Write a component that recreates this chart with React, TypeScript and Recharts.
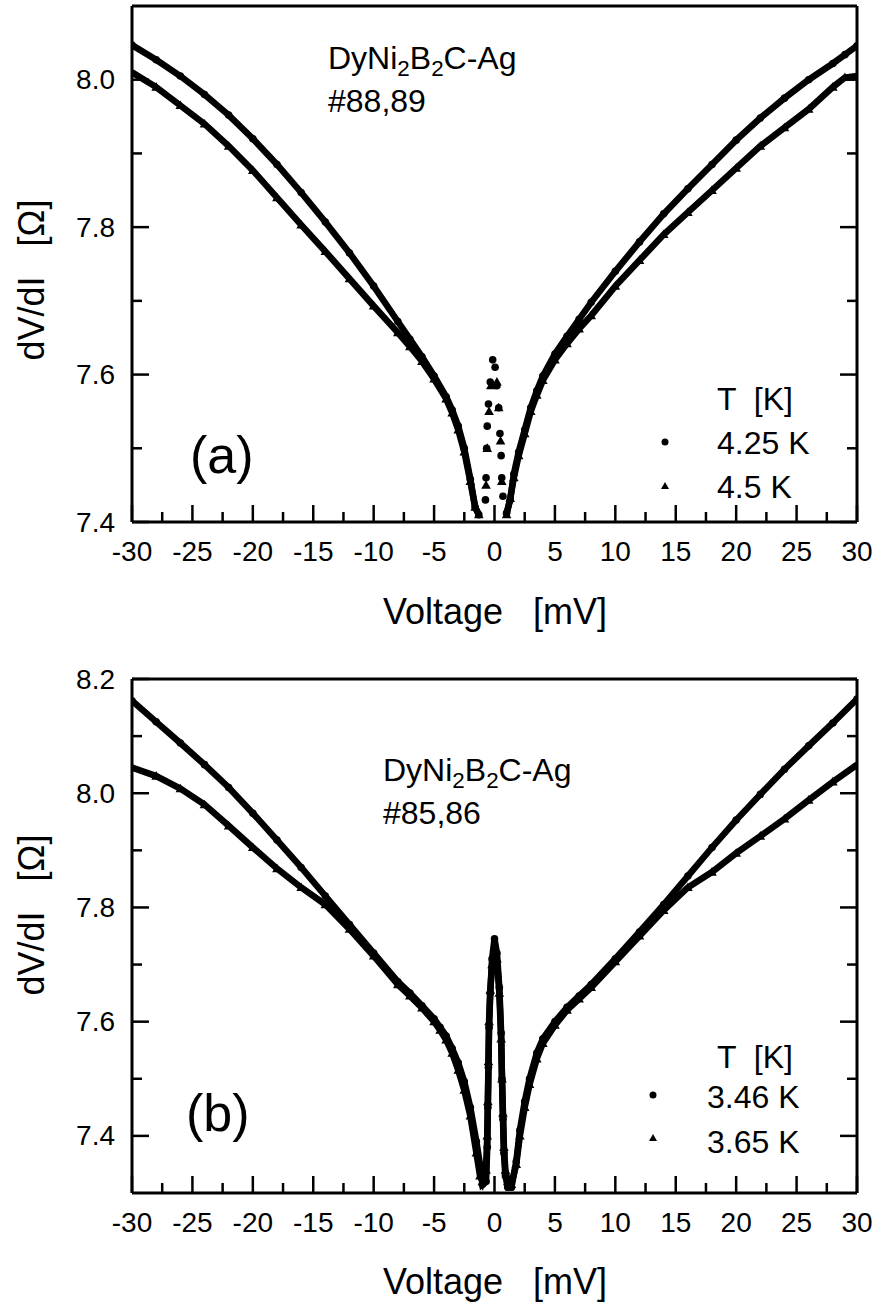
import React from 'react';
import { ScatterChart, Scatter, XAxis, YAxis } from 'recharts';

// ─── Data ─────────────────────────────────────────────────────────────────────

const xTicks = [
  -30, -27.5, -25, -22.5, -20, -17.5, -15, -12.5, -10, -7.5, -5, -2.5, 0,
  2.5, 5, 7.5, 10, 12.5, 15, 17.5, 20, 22.5, 25, 27.5, 30,
];
const yTicksA = [7.4, 7.5, 7.6, 7.7, 7.8, 7.9, 8.0];
const yTicksB = [7.4, 7.5, 7.6, 7.7, 7.8, 7.9, 8.0, 8.1, 8.2];

// panel (a): voltage grids of the two branches either side of the dip
const voltsALeft = [-30, -28, -26, -24, -22, -20, -18, -16, -14, -12, -10, -8, -7, -6, -5, -4, -3.5, -3, -2.5, -2, -1.6, -1.3];
const voltsARight = [1.0, 1.3, 1.6, 2, 2.5, 3, 3.5, 4, 5, 6, 7, 8, 10, 12, 14, 16, 18, 20, 22, 24, 26, 28, 29, 30];

// 4.25 K (circles)
const a425Left = [8.047, 8.027, 8.005, 7.98, 7.952, 7.92, 7.885, 7.847, 7.807, 7.765, 7.72, 7.672, 7.648, 7.624, 7.598, 7.57, 7.552, 7.53, 7.5, 7.458, 7.42, 7.41];
const a425Right = [7.412, 7.43, 7.465, 7.495, 7.525, 7.555, 7.578, 7.598, 7.628, 7.652, 7.675, 7.698, 7.74, 7.78, 7.818, 7.852, 7.885, 7.918, 7.948, 7.975, 8.0, 8.022, 8.034, 8.046];
// 4.5 K (triangles)
const a45Left = [8.01, 7.99, 7.965, 7.94, 7.91, 7.877, 7.84, 7.803, 7.767, 7.73, 7.693, 7.657, 7.638, 7.618, 7.594, 7.567, 7.548, 7.525, 7.495, 7.455, 7.42, 7.41];
const a45Right = [7.41, 7.432, 7.46, 7.49, 7.52, 7.55, 7.572, 7.592, 7.62, 7.642, 7.662, 7.68, 7.72, 7.755, 7.79, 7.82, 7.85, 7.88, 7.91, 7.935, 7.96, 7.99, 8.003, 8.005];

// zero-bias peak in (a), sparse points
const a425SpikeV = [-0.75, -0.7, -0.65, -0.6, -0.5, -0.35, -0.15, 0.05, 0.2, 0.35, 0.45, 0.55, 0.6, 0.7];
const a425SpikeR = [7.43, 7.46, 7.5, 7.53, 7.56, 7.59, 7.62, 7.61, 7.585, 7.555, 7.52, 7.49, 7.46, 7.435];
const a45SpikeV = [-0.7, -0.6, -0.45, -0.3, 0.2, 0.35, 0.5, 0.6];
const a45SpikeR = [7.45, 7.5, 7.55, 7.585, 7.59, 7.555, 7.51, 7.455];

// panel (b): one grid through the dip and the peak
const voltsB = [
  -30, -28, -26, -24, -22, -20, -18, -16, -14, -12, -10, -8, -7, -6, -5, -4.5, -4, -3.5, -3, -2.5, -2, -1.5, -1.2, -1.0,
  -0.7, -0.6, -0.55, -0.5, -0.45, -0.35, -0.2, 0, 0.2, 0.4, 0.55, 0.62, 0.7, 0.78, 0.9, 1.1,
  1.4, 1.8, 2.1, 2.5, 2.9, 3.5, 4, 5, 6, 7, 8, 10, 12, 14, 16, 18, 20, 22, 24, 26, 28, 30,
];
// 3.46 K (circles)
const b346 = [
  8.162, 8.125, 8.088, 8.05, 8.01, 7.965, 7.918, 7.87, 7.82, 7.77, 7.72, 7.67, 7.65, 7.628, 7.605, 7.59, 7.575, 7.553, 7.528, 7.495, 7.45, 7.39, 7.35, 7.315,
  7.32, 7.38, 7.45, 7.52, 7.59, 7.65, 7.71, 7.745, 7.72, 7.66, 7.58, 7.5, 7.43, 7.37, 7.33, 7.31,
  7.31, 7.355, 7.41, 7.46, 7.5, 7.545, 7.57, 7.6, 7.625, 7.645, 7.665, 7.71, 7.757, 7.805, 7.855, 7.905, 7.953, 7.998, 8.042, 8.083, 8.123, 8.165,
];
// 3.65 K (triangles)
const b365 = [
  8.045, 8.03, 8.008, 7.98, 7.943, 7.905, 7.868, 7.835, 7.805, 7.762, 7.715, 7.665, 7.645, 7.624, 7.6, 7.585, 7.568, 7.545, 7.515, 7.48, 7.435, 7.37, 7.33, 7.32,
  7.34, 7.4, 7.46, 7.53, 7.6, 7.655, 7.7, 7.73, 7.71, 7.65, 7.57, 7.5, 7.44, 7.38, 7.34, 7.32,
  7.315, 7.35, 7.4, 7.45, 7.49, 7.535, 7.562, 7.594, 7.62, 7.64, 7.66, 7.705, 7.75, 7.795, 7.835, 7.862, 7.895, 7.925, 7.955, 7.988, 8.02, 8.05,
];

// ─── Helpers ──────────────────────────────────────────────────────────────────

const FONT = '"Liberation Sans", Arial, Helvetica, sans-serif';
const MAJOR = 17;
const MINOR = 10;
const axisStyle = { stroke: '#000', strokeWidth: 3 };

const pts = (v: number[], r: number[]) => v.map((x, i) => ({ x, y: r[i] }));

const Dot = (p: any) => <circle cx={p.cx} cy={p.cy} r={3.8} fill="#000" />;
const Tri = (p: any) => (
  <polygon
    points={`${p.cx},${p.cy - 5} ${p.cx - 4.8},${p.cy + 3.6} ${p.cx + 4.8},${p.cy + 3.6}`}
    fill="#000"
  />
);

const isMajorX = (v: number) => v % 5 === 0;
const isMajorY = (v: number) => Math.round(v * 10) % 2 === 0;

const tickText = { fontFamily: FONT, fontSize: 28, fill: '#000' };

function BottomTick({ x, y, payload }: any) {
  const major = isMajorX(payload.value);
  return (
    <g>
      <line x1={x} x2={x} y1={y} y2={y - (major ? MAJOR : MINOR)} stroke="#000" strokeWidth={2.5} />
      {major && (
        <text x={x} y={y + 29} textAnchor="middle" dominantBaseline="central" {...tickText}>
          {payload.value}
        </text>
      )}
    </g>
  );
}

function TopTick({ x, y, payload }: any) {
  const major = isMajorX(payload.value);
  return <line x1={x} x2={x} y1={y} y2={y + (major ? MAJOR : MINOR)} stroke="#000" strokeWidth={2.5} />;
}

function LeftTick({ x, y, payload }: any) {
  const major = isMajorY(payload.value);
  return (
    <g>
      <line x1={x} x2={x + (major ? MAJOR : MINOR)} y1={y} y2={y} stroke="#000" strokeWidth={2.5} />
      {major && (
        <text x={x - 17} y={y} textAnchor="end" dominantBaseline="central" {...tickText}>
          {payload.value.toFixed(1)}
        </text>
      )}
    </g>
  );
}

function RightTick({ x, y, payload }: any) {
  const major = isMajorY(payload.value);
  return <line x1={x} x2={x - (major ? MAJOR : MINOR)} y1={y} y2={y} stroke="#000" strokeWidth={2.5} />;
}

// ─── Panel ────────────────────────────────────────────────────────────────────

interface Series {
  data: { x: number; y: number }[];
  shape: (p: any) => React.ReactElement;
  joined: boolean;
}

interface PanelProps {
  plotTop: number;
  plotBottom: number;
  yDomain: [number, number];
  yTicks: number[];
  series: Series[];
}

// plot box spans x 132..857; room above for the top tick label, below for the x labels
const PAD_TOP = 20;
const TOP_AXIS = 6;
const BOTTOM_AXIS = 40;
const PAD_BOTTOM = 38;

function Panel({ plotTop, plotBottom, yDomain, yTicks, series }: PanelProps) {
  const height = plotBottom - plotTop + PAD_TOP + TOP_AXIS + BOTTOM_AXIS + PAD_BOTTOM;
  return (
    <div style={{ position: 'absolute', left: 0, top: plotTop - PAD_TOP - TOP_AXIS, width: 879, height }}>
      <ScatterChart width={879} height={height} margin={{ top: PAD_TOP, right: 12, bottom: PAD_BOTTOM, left: 72 }}>
        <XAxis
          type="number"
          dataKey="x"
          domain={[-30, 30]}
          ticks={xTicks}
          interval={0}
          allowDataOverflow
          height={BOTTOM_AXIS}
          tickSize={0}
          tickMargin={0}
          tickLine={false}
          axisLine={axisStyle}
          tick={<BottomTick />}
        />
        <XAxis
          xAxisId="top"
          orientation="top"
          type="number"
          domain={[-30, 30]}
          ticks={xTicks}
          interval={0}
          allowDataOverflow
          height={TOP_AXIS}
          tickSize={0}
          tickMargin={0}
          tickLine={false}
          axisLine={axisStyle}
          tick={<TopTick />}
        />
        <YAxis
          type="number"
          dataKey="y"
          domain={yDomain}
          ticks={yTicks}
          interval={0}
          allowDataOverflow
          width={60}
          tickSize={0}
          tickMargin={0}
          tickLine={false}
          axisLine={axisStyle}
          tick={<LeftTick />}
        />
        <YAxis
          yAxisId="right"
          orientation="right"
          type="number"
          domain={yDomain}
          ticks={yTicks}
          interval={0}
          allowDataOverflow
          width={10}
          tickSize={0}
          tickMargin={0}
          tickLine={false}
          axisLine={axisStyle}
          tick={<RightTick />}
        />
        {series.map((s, i) => (
          <Scatter
            key={i}
            data={s.data}
            fill="#000"
            shape={s.shape}
            line={s.joined ? { stroke: '#000', strokeWidth: 6.5 } : false}
            isAnimationActive={false}
          />
        ))}
      </ScatterChart>
    </div>
  );
}

// ─── Text overlays ────────────────────────────────────────────────────────────

const txt = (left: number, centre: number, size: number, extra: React.CSSProperties = {}): React.CSSProperties => ({
  position: 'absolute',
  left,
  top: centre - size / 2,
  fontSize: size,
  lineHeight: 1,
  fontFamily: FONT,
  whiteSpace: 'pre',
  color: '#000',
  ...extra,
});

const sub: React.CSSProperties = { fontSize: '0.7em', verticalAlign: '-0.3em', lineHeight: 0 };

function Sample({ left, centre, id }: { left: number; centre: number; id: string }) {
  return (
    <>
      <div style={txt(left, centre, 32)}>
        DyNi<span style={sub}>2</span>B<span style={sub}>2</span>C-Ag
      </div>
      <div style={txt(left, centre + 43, 32)}>{id}</div>
    </>
  );
}

function LegendMark({ x, y, tri }: { x: number; y: number; tri?: boolean }) {
  return (
    <svg style={{ position: 'absolute', left: x - 6, top: y - 6 }} width={12} height={12}>
      {tri ? <polygon points="6,2 2,9 10,9" fill="#000" /> : <circle cx={6} cy={6} r={3.5} fill="#000" />}
    </svg>
  );
}

function YTitle({ centre }: { centre: number }) {
  return (
    <div
      style={{
        position: 'absolute',
        left: 32,
        top: centre,
        transform: 'translate(-50%, -50%) rotate(-90deg)',
        fontSize: 36,
        lineHeight: 1,
        fontFamily: FONT,
        whiteSpace: 'pre',
      }}
    >
      {'dV/dI   [Ω]'}
    </div>
  );
}

function XTitle({ centre }: { centre: number }) {
  return (
    <div style={{ ...txt(0, centre, 36), width: 990, textAlign: 'center' }}>{'Voltage   [mV]'}</div>
  );
}

// ─── App ──────────────────────────────────────────────────────────────────────

export default function App() {
  const seriesA: Series[] = [
    { data: pts(voltsALeft, a425Left), shape: Dot, joined: true },
    { data: pts(voltsARight, a425Right), shape: Dot, joined: true },
    { data: pts(voltsALeft, a45Left), shape: Tri, joined: true },
    { data: pts(voltsARight, a45Right), shape: Tri, joined: true },
    { data: pts(a425SpikeV, a425SpikeR), shape: Dot, joined: false },
    { data: pts(a45SpikeV, a45SpikeR), shape: Tri, joined: false },
  ];
  const seriesB: Series[] = [
    { data: pts(voltsB, b346), shape: Dot, joined: true },
    { data: pts(voltsB, b365), shape: Tri, joined: true },
  ];

  return (
    <div style={{ position: 'absolute', left: 0, top: 0, width: 879, height: 1307, background: '#fff', overflow: 'hidden' }}>
      <Panel plotTop={6} plotBottom={522} yDomain={[7.4, 8.1]} yTicks={yTicksA} series={seriesA} />
      <Panel plotTop={679} plotBottom={1193} yDomain={[7.3, 8.2]} yTicks={yTicksB} series={seriesB} />

      <YTitle centre={280} />
      <YTitle centre={915} />
      <XTitle centre={612} />
      <XTitle centre={1282} />

      <Sample left={328} centre={58} id="#88,89" />
      <Sample left={383} centre={770} id="#85,86" />

      <div style={txt(190, 455, 52)}>(a)</div>
      <div style={txt(186, 1113, 52)}>(b)</div>

      <div style={txt(717, 399, 32)}>{'T  [K]'}</div>
      <LegendMark x={665} y={442} />
      <div style={txt(717, 443, 32)}>4.25 K</div>
      <LegendMark x={665} y={486} tri />
      <div style={txt(717, 487, 32)}>4.5 K</div>

      <div style={txt(717, 1057, 32)}>{'T  [K]'}</div>
      <LegendMark x={653} y={1095} />
      <div style={txt(707, 1097, 32)}>3.46 K</div>
      <LegendMark x={653} y={1138} tri />
      <div style={txt(707, 1142, 32)}>3.65 K</div>
    </div>
  );
}
